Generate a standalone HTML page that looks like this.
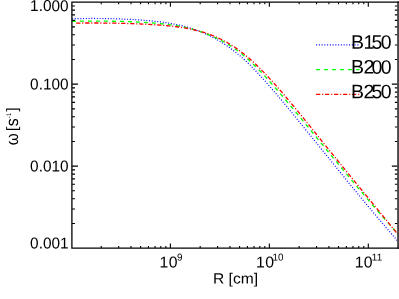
<!DOCTYPE html>
<html><head><meta charset="utf-8"><title>omega vs R</title>
<style>
html,body{margin:0;padding:0;background:#fff;}
svg{display:block;will-change:transform;}
text{font-family:"Liberation Sans",sans-serif;fill:#000;text-rendering:geometricPrecision;}
</style></head><body>
<svg width="399" height="299" viewBox="0 0 399 299">
<rect x="0" y="0" width="399" height="299" fill="#fff"/>
<g fill="none" stroke-width="1.3">
<path d="M71.90,18.77 L72.89,18.74 L73.89,18.72 L74.88,18.69 L75.88,18.67 L76.87,18.64 L77.87,18.62 L78.86,18.60 L79.85,18.58 L80.85,18.57 L81.84,18.55 L82.84,18.54 L83.83,18.52 L84.82,18.51 L85.82,18.50 L86.81,18.49 L87.81,18.49 L88.80,18.48 L89.80,18.48 L90.79,18.47 L91.78,18.47 L92.78,18.47 L93.77,18.47 L94.77,18.47 L95.76,18.48 L96.76,18.48 L97.75,18.49 L98.74,18.49 L99.74,18.50 L100.73,18.51 L101.73,18.52 L102.72,18.53 L103.72,18.55 L104.71,18.56 L105.70,18.58 L106.70,18.60 L107.69,18.61 L108.69,18.63 L109.68,18.66 L110.67,18.68 L111.67,18.70 L112.66,18.73 L113.66,18.75 L114.65,18.78 L115.65,18.81 L116.64,18.84 L117.63,18.87 L118.63,18.90 L119.62,18.94 L120.62,18.97 L121.61,19.01 L122.61,19.05 L123.60,19.09 L124.59,19.13 L125.59,19.17 L126.58,19.22 L127.58,19.27 L128.57,19.31 L129.57,19.36 L130.56,19.41 L131.55,19.47 L132.55,19.52 L133.54,19.57 L134.54,19.63 L135.53,19.69 L136.52,19.75 L137.52,19.82 L138.51,19.88 L139.51,19.95 L140.50,20.02 L141.50,20.09 L142.49,20.16 L143.48,20.24 L144.48,20.31 L145.47,20.39 L146.47,20.48 L147.46,20.56 L148.46,20.65 L149.45,20.74 L150.44,20.83 L151.44,20.93 L152.43,21.02 L153.43,21.13 L154.42,21.23 L155.41,21.34 L156.41,21.45 L157.40,21.56 L158.40,21.68 L159.39,21.80 L160.39,21.92 L161.38,22.05 L162.37,22.18 L163.37,22.32 L164.36,22.46 L165.36,22.60 L166.35,22.75 L167.35,22.91 L168.34,23.06 L169.33,23.23 L170.33,23.40 L171.32,23.57 L172.32,23.75 L173.31,23.93 L174.31,24.12 L175.30,24.31 L176.29,24.52 L177.29,24.72 L178.28,24.94 L179.28,25.16 L180.27,25.38 L181.26,25.61 L182.26,25.85 L183.25,26.10 L184.25,26.36 L185.24,26.62 L186.24,26.89 L187.23,27.17 L188.22,27.45 L189.22,27.74 L190.21,28.05 L191.21,28.36 L192.20,28.68 L193.20,29.00 L194.19,29.34 L195.18,29.69 L196.18,30.04 L197.17,30.41 L198.17,30.78 L199.16,31.16 L200.16,31.56 L201.15,31.96 L202.14,32.37 L203.14,32.79 L204.13,33.22 L205.13,33.66 L206.12,34.11 L207.11,34.57 L208.11,35.04 L209.10,35.52 L210.10,36.00 L211.09,36.50 L212.09,37.01 L213.08,37.53 L214.07,38.06 L215.07,38.59 L216.06,39.14 L217.06,39.70 L218.05,40.27 L219.05,40.84 L220.04,41.43 L221.03,42.03 L222.03,42.64 L223.02,43.26 L224.02,43.90 L225.01,44.54 L226.00,45.20 L227.00,45.87 L227.99,46.56 L228.99,47.25 L229.98,47.96 L230.98,48.69 L231.97,49.42 L232.96,50.17 L233.96,50.93 L234.95,51.71 L235.95,52.50 L236.94,53.30 L237.94,54.12 L238.93,54.95 L239.92,55.79 L240.92,56.65 L241.91,57.52 L242.91,58.40 L243.90,59.29 L244.90,60.20 L245.89,61.12 L246.88,62.06 L247.88,63.00 L248.87,63.97 L249.87,64.94 L250.86,65.92 L251.85,66.92 L252.85,67.93 L253.84,68.95 L254.84,69.99 L255.83,71.03 L256.83,72.08 L257.82,73.14 L258.81,74.21 L259.81,75.29 L260.80,76.38 L261.80,77.48 L262.79,78.58 L263.79,79.68 L264.78,80.80 L265.77,81.92 L266.77,83.04 L267.76,84.17 L268.76,85.31 L269.75,86.45 L270.74,87.59 L271.74,88.74 L272.73,89.89 L273.73,91.05 L274.72,92.21 L275.72,93.38 L276.71,94.54 L277.70,95.72 L278.70,96.89 L279.69,98.07 L280.69,99.25 L281.68,100.44 L282.68,101.63 L283.67,102.82 L284.66,104.01 L285.66,105.21 L286.65,106.41 L287.65,107.61 L288.64,108.81 L289.64,110.02 L290.63,111.22 L291.62,112.43 L292.62,113.64 L293.61,114.86 L294.61,116.07 L295.60,117.29 L296.59,118.50 L297.59,119.72 L298.58,120.94 L299.58,122.16 L300.57,123.38 L301.57,124.61 L302.56,125.83 L303.55,127.06 L304.55,128.28 L305.54,129.51 L306.54,130.74 L307.53,131.96 L308.53,133.19 L309.52,134.42 L310.51,135.65 L311.51,136.88 L312.50,138.11 L313.50,139.34 L314.49,140.57 L315.49,141.80 L316.48,143.03 L317.47,144.27 L318.47,145.50 L319.46,146.73 L320.46,147.96 L321.45,149.19 L322.44,150.42 L323.44,151.65 L324.43,152.88 L325.43,154.11 L326.42,155.34 L327.42,156.57 L328.41,157.80 L329.40,159.03 L330.40,160.26 L331.39,161.49 L332.39,162.72 L333.38,163.94 L334.38,165.17 L335.37,166.40 L336.36,167.62 L337.36,168.85 L338.35,170.07 L339.35,171.29 L340.34,172.52 L341.33,173.74 L342.33,174.96 L343.32,176.18 L344.32,177.40 L345.31,178.62 L346.31,179.83 L347.30,181.05 L348.29,182.27 L349.29,183.48 L350.28,184.70 L351.28,185.91 L352.27,187.12 L353.27,188.33 L354.26,189.54 L355.25,190.75 L356.25,191.96 L357.24,193.16 L358.24,194.37 L359.23,195.57 L360.23,196.77 L361.22,197.98 L362.21,199.18 L363.21,200.38 L364.20,201.57 L365.20,202.77 L366.19,203.97 L367.18,205.16 L368.18,206.35 L369.17,207.54 L370.17,208.73 L371.16,209.92 L372.16,211.11 L373.15,212.29 L374.14,213.48 L375.14,214.66 L376.13,215.84 L377.13,217.02 L378.12,218.20 L379.12,219.38 L380.11,220.55 L381.10,221.72 L382.10,222.90 L383.09,224.07 L384.09,225.23 L385.08,226.40 L386.08,227.57 L387.07,228.73 L388.06,229.89 L389.06,231.05 L390.05,232.21 L391.05,233.37 L392.04,234.52 L393.03,235.67 L394.03,236.83 L395.02,237.98 L396.02,239.12 L397.01,240.27 L398.01,241.41 L399.00,242.56" stroke="#0000ff" stroke-width="1.2" stroke-dasharray="1.0 1.75" stroke-dashoffset="-0.2"/>
<path d="M71.90,21.36 L72.89,21.34 L73.89,21.31 L74.88,21.29 L75.88,21.27 L76.87,21.26 L77.87,21.24 L78.86,21.22 L79.85,21.21 L80.85,21.19 L81.84,21.18 L82.84,21.17 L83.83,21.16 L84.82,21.15 L85.82,21.14 L86.81,21.13 L87.81,21.12 L88.80,21.12 L89.80,21.11 L90.79,21.11 L91.78,21.10 L92.78,21.10 L93.77,21.10 L94.77,21.10 L95.76,21.10 L96.76,21.10 L97.75,21.10 L98.74,21.11 L99.74,21.11 L100.73,21.12 L101.73,21.12 L102.72,21.13 L103.72,21.14 L104.71,21.15 L105.70,21.16 L106.70,21.17 L107.69,21.18 L108.69,21.19 L109.68,21.21 L110.67,21.22 L111.67,21.24 L112.66,21.25 L113.66,21.27 L114.65,21.29 L115.65,21.31 L116.64,21.33 L117.63,21.35 L118.63,21.37 L119.62,21.40 L120.62,21.42 L121.61,21.45 L122.61,21.48 L123.60,21.50 L124.59,21.53 L125.59,21.56 L126.58,21.60 L127.58,21.63 L128.57,21.66 L129.57,21.70 L130.56,21.74 L131.55,21.77 L132.55,21.81 L133.54,21.85 L134.54,21.89 L135.53,21.94 L136.52,21.98 L137.52,22.03 L138.51,22.08 L139.51,22.13 L140.50,22.18 L141.50,22.23 L142.49,22.29 L143.48,22.34 L144.48,22.40 L145.47,22.46 L146.47,22.52 L147.46,22.59 L148.46,22.65 L149.45,22.72 L150.44,22.79 L151.44,22.86 L152.43,22.94 L153.43,23.01 L154.42,23.09 L155.41,23.17 L156.41,23.26 L157.40,23.35 L158.40,23.44 L159.39,23.53 L160.39,23.63 L161.38,23.73 L162.37,23.83 L163.37,23.93 L164.36,24.04 L165.36,24.16 L166.35,24.27 L167.35,24.39 L168.34,24.52 L169.33,24.65 L170.33,24.78 L171.32,24.92 L172.32,25.06 L173.31,25.20 L174.31,25.35 L175.30,25.51 L176.29,25.67 L177.29,25.84 L178.28,26.01 L179.28,26.19 L180.27,26.37 L181.26,26.56 L182.26,26.75 L183.25,26.95 L184.25,27.16 L185.24,27.38 L186.24,27.60 L187.23,27.83 L188.22,28.06 L189.22,28.31 L190.21,28.56 L191.21,28.82 L192.20,29.08 L193.20,29.36 L194.19,29.64 L195.18,29.93 L196.18,30.23 L197.17,30.54 L198.17,30.85 L199.16,31.18 L200.16,31.51 L201.15,31.85 L202.14,32.20 L203.14,32.55 L204.13,32.92 L205.13,33.29 L206.12,33.67 L207.11,34.06 L208.11,34.46 L209.10,34.87 L210.10,35.28 L211.09,35.71 L212.09,36.14 L213.08,36.58 L214.07,37.03 L215.07,37.48 L216.06,37.95 L217.06,38.42 L218.05,38.91 L219.05,39.40 L220.04,39.90 L221.03,40.41 L222.03,40.93 L223.02,41.47 L224.02,42.01 L225.01,42.57 L226.00,43.14 L227.00,43.72 L227.99,44.32 L228.99,44.92 L229.98,45.55 L230.98,46.18 L231.97,46.83 L232.96,47.49 L233.96,48.17 L234.95,48.86 L235.95,49.57 L236.94,50.29 L237.94,51.02 L238.93,51.77 L239.92,52.53 L240.92,53.31 L241.91,54.10 L242.91,54.90 L243.90,55.72 L244.90,56.56 L245.89,57.40 L246.88,58.27 L247.88,59.14 L248.87,60.04 L249.87,60.94 L250.86,61.86 L251.85,62.79 L252.85,63.74 L253.84,64.70 L254.84,65.68 L255.83,66.67 L256.83,67.67 L257.82,68.69 L258.81,69.72 L259.81,70.75 L260.80,71.80 L261.80,72.86 L262.79,73.93 L263.79,75.00 L264.78,76.08 L265.77,77.17 L266.77,78.27 L267.76,79.37 L268.76,80.48 L269.75,81.59 L270.74,82.71 L271.74,83.83 L272.73,84.96 L273.73,86.09 L274.72,87.23 L275.72,88.37 L276.71,89.52 L277.70,90.67 L278.70,91.83 L279.69,92.99 L280.69,94.15 L281.68,95.31 L282.68,96.48 L283.67,97.66 L284.66,98.83 L285.66,100.01 L286.65,101.19 L287.65,102.38 L288.64,103.56 L289.64,104.75 L290.63,105.94 L291.62,107.14 L292.62,108.33 L293.61,109.53 L294.61,110.73 L295.60,111.93 L296.59,113.13 L297.59,114.34 L298.58,115.54 L299.58,116.75 L300.57,117.96 L301.57,119.17 L302.56,120.38 L303.55,121.59 L304.55,122.80 L305.54,124.02 L306.54,125.23 L307.53,126.45 L308.53,127.66 L309.52,128.88 L310.51,130.09 L311.51,131.31 L312.50,132.53 L313.50,133.75 L314.49,134.96 L315.49,136.18 L316.48,137.40 L317.47,138.62 L318.47,139.83 L319.46,141.05 L320.46,142.27 L321.45,143.49 L322.44,144.71 L323.44,145.92 L324.43,147.14 L325.43,148.36 L326.42,149.57 L327.42,150.79 L328.41,152.00 L329.40,153.22 L330.40,154.43 L331.39,155.64 L332.39,156.86 L333.38,158.07 L334.38,159.28 L335.37,160.49 L336.36,161.70 L337.36,162.91 L338.35,164.12 L339.35,165.32 L340.34,166.53 L341.33,167.74 L342.33,168.94 L343.32,170.14 L344.32,171.35 L345.31,172.55 L346.31,173.75 L347.30,174.95 L348.29,176.14 L349.29,177.34 L350.28,178.54 L351.28,179.73 L352.27,180.92 L353.27,182.11 L354.26,183.30 L355.25,184.49 L356.25,185.68 L357.24,186.87 L358.24,188.05 L359.23,189.23 L360.23,190.42 L361.22,191.60 L362.21,192.77 L363.21,193.95 L364.20,195.13 L365.20,196.30 L366.19,197.47 L367.18,198.64 L368.18,199.81 L369.17,200.98 L370.17,202.14 L371.16,203.31 L372.16,204.47 L373.15,205.63 L374.14,206.79 L375.14,207.95 L376.13,209.10 L377.13,210.25 L378.12,211.40 L379.12,212.55 L380.11,213.70 L381.10,214.85 L382.10,215.99 L383.09,217.13 L384.09,218.27 L385.08,219.41 L386.08,220.54 L387.07,221.67 L388.06,222.81 L389.06,223.93 L390.05,225.06 L391.05,226.19 L392.04,227.31 L393.03,228.43 L394.03,229.55 L395.02,230.66 L396.02,231.78 L397.01,232.89 L398.01,234.00 L399.00,235.10" stroke="#00ff00" stroke-dasharray="4 4"/>
<path d="M76.20,23.09 L77.18,23.08 L78.16,23.07 L79.14,23.05 L80.12,23.04 L81.11,23.03 L82.09,23.02 L83.07,23.01 L84.05,23.01 L85.03,23.00 L86.01,22.99 L86.99,22.99 L87.97,22.99 L88.96,22.98 L89.94,22.98 L90.92,22.98 L91.90,22.98 L92.88,22.98 L93.86,22.98 L94.84,22.98 L95.82,22.99 L96.80,22.99 L97.79,22.99 L98.77,23.00 L99.75,23.01 L100.73,23.01 L101.71,23.02 L102.69,23.03 L103.67,23.04 L104.65,23.05 L105.63,23.06 L106.62,23.07 L107.60,23.09 L108.58,23.10 L109.56,23.11 L110.54,23.13 L111.52,23.14 L112.50,23.16 L113.48,23.18 L114.47,23.20 L115.45,23.22 L116.43,23.24 L117.41,23.26 L118.39,23.28 L119.37,23.30 L120.35,23.32 L121.33,23.35 L122.31,23.37 L123.30,23.40 L124.28,23.42 L125.26,23.45 L126.24,23.48 L127.22,23.51 L128.20,23.54 L129.18,23.57 L130.16,23.60 L131.14,23.63 L132.13,23.66 L133.11,23.70 L134.09,23.73 L135.07,23.77 L136.05,23.81 L137.03,23.84 L138.01,23.88 L138.99,23.92 L139.98,23.97 L140.96,24.01 L141.94,24.05 L142.92,24.10 L143.90,24.14 L144.88,24.19 L145.86,24.24 L146.84,24.29 L147.82,24.34 L148.81,24.40 L149.79,24.45 L150.77,24.51 L151.75,24.57 L152.73,24.63 L153.71,24.69 L154.69,24.75 L155.67,24.81 L156.65,24.88 L157.64,24.95 L158.62,25.02 L159.60,25.09 L160.58,25.17 L161.56,25.25 L162.54,25.33 L163.52,25.41 L164.50,25.49 L165.49,25.58 L166.47,25.67 L167.45,25.76 L168.43,25.86 L169.41,25.96 L170.39,26.06 L171.37,26.17 L172.35,26.27 L173.33,26.39 L174.32,26.50 L175.30,26.62 L176.28,26.75 L177.26,26.87 L178.24,27.00 L179.22,27.14 L180.20,27.28 L181.18,27.42 L182.16,27.57 L183.15,27.73 L184.13,27.89 L185.11,28.05 L186.09,28.22 L187.07,28.40 L188.05,28.58 L189.03,28.77 L190.01,28.96 L191.00,29.16 L191.98,29.37 L192.96,29.58 L193.94,29.80 L194.92,30.03 L195.90,30.26 L196.88,30.50 L197.86,30.75 L198.84,31.01 L199.83,31.27 L200.81,31.55 L201.79,31.83 L202.77,32.12 L203.75,32.42 L204.73,32.72 L205.71,33.04 L206.69,33.37 L207.67,33.70 L208.66,34.05 L209.64,34.40 L210.62,34.77 L211.60,35.15 L212.58,35.53 L213.56,35.93 L214.54,36.34 L215.52,36.75 L216.51,37.18 L217.49,37.62 L218.47,38.07 L219.45,38.54 L220.43,39.01 L221.41,39.49 L222.39,39.99 L223.37,40.50 L224.35,41.02 L225.34,41.55 L226.32,42.09 L227.30,42.65 L228.28,43.21 L229.26,43.79 L230.24,44.39 L231.22,44.99 L232.20,45.61 L233.18,46.24 L234.17,46.88 L235.15,47.53 L236.13,48.20 L237.11,48.88 L238.09,49.58 L239.07,50.28 L240.05,51.00 L241.03,51.74 L242.02,52.48 L243.00,53.24 L243.98,54.02 L244.96,54.80 L245.94,55.60 L246.92,56.42 L247.90,57.24 L248.88,58.08 L249.86,58.93 L250.85,59.80 L251.83,60.68 L252.81,61.57 L253.79,62.47 L254.77,63.38 L255.75,64.31 L256.73,65.24 L257.71,66.19 L258.69,67.15 L259.68,68.12 L260.66,69.10 L261.64,70.09 L262.62,71.09 L263.60,72.10 L264.58,73.11 L265.56,74.14 L266.54,75.17 L267.53,76.22 L268.51,77.27 L269.49,78.33 L270.47,79.39 L271.45,80.46 L272.43,81.55 L273.41,82.63 L274.39,83.73 L275.37,84.83 L276.36,85.93 L277.34,87.05 L278.32,88.16 L279.30,89.29 L280.28,90.42 L281.26,91.55 L282.24,92.69 L283.22,93.84 L284.20,94.99 L285.19,96.14 L286.17,97.30 L287.15,98.46 L288.13,99.62 L289.11,100.79 L290.09,101.97 L291.07,103.14 L292.05,104.32 L293.04,105.51 L294.02,106.69 L295.00,107.88 L295.98,109.07 L296.96,110.26 L297.94,111.46 L298.92,112.66 L299.90,113.86 L300.88,115.06 L301.87,116.27 L302.85,117.47 L303.83,118.68 L304.81,119.89 L305.79,121.10 L306.77,122.31 L307.75,123.52 L308.73,124.74 L309.71,125.95 L310.70,127.17 L311.68,128.39 L312.66,129.60 L313.64,130.82 L314.62,132.04 L315.60,133.26 L316.58,134.48 L317.56,135.70 L318.55,136.92 L319.53,138.14 L320.51,139.36 L321.49,140.58 L322.47,141.79 L323.45,143.01 L324.43,144.23 L325.41,145.45 L326.39,146.67 L327.38,147.88 L328.36,149.10 L329.34,150.32 L330.32,151.53 L331.30,152.75 L332.28,153.96 L333.26,155.17 L334.24,156.38 L335.22,157.59 L336.21,158.80 L337.19,160.01 L338.17,161.22 L339.15,162.42 L340.13,163.63 L341.11,164.84 L342.09,166.04 L343.07,167.24 L344.06,168.45 L345.04,169.65 L346.02,170.85 L347.00,172.05 L347.98,173.25 L348.96,174.45 L349.94,175.65 L350.92,176.85 L351.90,178.05 L352.89,179.25 L353.87,180.45 L354.85,181.65 L355.83,182.84 L356.81,184.04 L357.79,185.24 L358.77,186.43 L359.75,187.63 L360.73,188.83 L361.72,190.02 L362.70,191.22 L363.68,192.42 L364.66,193.61 L365.64,194.81 L366.62,196.01 L367.60,197.20 L368.58,198.40 L369.57,199.60 L370.55,200.79 L371.53,201.99 L372.51,203.19 L373.49,204.39 L374.47,205.59 L375.45,206.79 L376.43,207.99 L377.41,209.19 L378.40,210.39 L379.38,211.59 L380.36,212.79 L381.34,214.00 L382.32,215.20 L383.30,216.41 L384.28,217.61 L385.26,218.82 L386.24,220.03 L387.23,221.24 L388.21,222.45 L389.19,223.66 L390.17,224.87 L391.15,226.08 L392.13,227.30 L393.11,228.51 L394.09,229.73 L395.08,230.95 L396.06,232.17 L397.04,233.39 L398.02,234.61 L399.00,235.83" stroke="#ff0000" stroke-dasharray="4.2 1.85 1.1 1.85"/>
</g>
<path d="M71.9,59.49h3.1 M397.95,59.49h-3.1 M71.9,45.06h3.1 M397.95,45.06h-3.1 M71.9,34.82h3.1 M397.95,34.82h-3.1 M71.9,26.87h3.1 M397.95,26.87h-3.1 M71.9,20.38h3.1 M397.95,20.38h-3.1 M71.9,14.90h3.1 M397.95,14.90h-3.1 M71.9,10.14h3.1 M397.95,10.14h-3.1 M71.9,5.95h3.1 M397.95,5.95h-3.1 M71.9,84.17h6.1 M397.95,84.17h-6.1 M71.9,141.46h3.1 M397.95,141.46h-3.1 M71.9,127.03h3.1 M397.95,127.03h-3.1 M71.9,116.78h3.1 M397.95,116.78h-3.1 M71.9,108.84h3.1 M397.95,108.84h-3.1 M71.9,102.35h3.1 M397.95,102.35h-3.1 M71.9,96.86h3.1 M397.95,96.86h-3.1 M71.9,92.11h3.1 M397.95,92.11h-3.1 M71.9,87.92h3.1 M397.95,87.92h-3.1 M71.9,166.13h6.1 M397.95,166.13h-6.1 M71.9,223.43h3.1 M397.95,223.43h-3.1 M71.9,208.99h3.1 M397.95,208.99h-3.1 M71.9,198.75h3.1 M397.95,198.75h-3.1 M71.9,190.81h3.1 M397.95,190.81h-3.1 M71.9,184.32h3.1 M397.95,184.32h-3.1 M71.9,178.83h3.1 M397.95,178.83h-3.1 M71.9,174.08h3.1 M397.95,174.08h-3.1 M71.9,169.88h3.1 M397.95,169.88h-3.1 M101.24,248.1v-2.0 M101.24,2.2v2.0 M118.66,248.1v-2.0 M118.66,2.2v2.0 M131.02,248.1v-2.0 M131.02,2.2v2.0 M140.61,248.1v-2.0 M140.61,2.2v2.0 M148.45,248.1v-2.0 M148.45,2.2v2.0 M155.07,248.1v-2.0 M155.07,2.2v2.0 M160.81,248.1v-2.0 M160.81,2.2v2.0 M165.87,248.1v-2.0 M165.87,2.2v2.0 M170.40,248.1v-4.6 M170.40,2.2v4.6 M200.19,248.1v-2.0 M200.19,2.2v2.0 M217.61,248.1v-2.0 M217.61,2.2v2.0 M229.97,248.1v-2.0 M229.97,2.2v2.0 M239.56,248.1v-2.0 M239.56,2.2v2.0 M247.40,248.1v-2.0 M247.40,2.2v2.0 M254.02,248.1v-2.0 M254.02,2.2v2.0 M259.76,248.1v-2.0 M259.76,2.2v2.0 M264.82,248.1v-2.0 M264.82,2.2v2.0 M269.35,248.1v-4.6 M269.35,2.2v4.6 M299.14,248.1v-2.0 M299.14,2.2v2.0 M316.56,248.1v-2.0 M316.56,2.2v2.0 M328.92,248.1v-2.0 M328.92,2.2v2.0 M338.51,248.1v-2.0 M338.51,2.2v2.0 M346.35,248.1v-2.0 M346.35,2.2v2.0 M352.97,248.1v-2.0 M352.97,2.2v2.0 M358.71,248.1v-2.0 M358.71,2.2v2.0 M363.77,248.1v-2.0 M363.77,2.2v2.0 M368.30,248.1v-4.6 M368.30,2.2v4.6" stroke="#000" stroke-width="1.1" fill="none"/>
<rect x="397.1" y="1.55" width="1.9" height="247.20" fill="#484848"/>
<path d="M399,2.2H71.9V248.1H399" fill="none" stroke="#000" stroke-width="1.3" stroke-linejoin="miter"/>
<text transform="translate(30.10,11.10) rotate(0.1) scale(0.975,1)" font-size="15.8">1.000</text>
<text transform="translate(30.10,89.50) rotate(0.1) scale(0.975,1)" font-size="15.8">0.100</text>
<text transform="translate(30.10,171.50) rotate(0.1) scale(0.975,1)" font-size="15.8">0.010</text>
<text transform="translate(30.10,248.50) rotate(0.1) scale(0.975,1)" font-size="15.8">0.001</text>
<text transform="translate(159.50,267.50) rotate(0.1)" font-size="15.8" x="0.00 9.17">10</text>
<text transform="translate(177.10,260.40) rotate(0.1)" font-size="9.9" x="0.00">9</text>
<text transform="translate(256.10,267.50) rotate(0.1)" font-size="15.8" x="0.00 9.17">10</text>
<text transform="translate(272.56,260.40) rotate(0.1)" font-size="9.9" x="0.00 5.54">10</text>
<text transform="translate(354.70,267.50) rotate(0.1)" font-size="15.8" x="0.00 9.10">10</text>
<text transform="translate(371.70,260.40) rotate(0.1)" font-size="9.9" x="0.00 5.10">11</text>
<text transform="translate(213.00,283.40) rotate(0.1) scale(1.055,1)" font-size="14.8">R [cm]</text>
<text transform="translate(18.1,145.2) rotate(-90) scale(0.885,1)" font-size="17.3">ω</text>
<text transform="translate(17.08,131.17) rotate(-90) scale(1.1,1)" font-size="15.0">[</text>
<text transform="translate(17.9,126.35) rotate(-90) scale(0.915,1)" font-size="17.3">s</text>
<text transform="translate(10.8,118.5) rotate(-90) scale(1.0,1)" font-size="6.7">-</text>
<text transform="translate(10.8,115.9) rotate(-90) scale(0.8,1)" font-size="6.7">1</text>
<text transform="translate(17.08,111.83) rotate(-90) scale(1.05,1)" font-size="15.0">]</text>
<path d="M316.1,44.8H359.5" stroke="#0000ff" stroke-width="1.3" stroke-dasharray="1.0 1.75" fill="none"/>
<text transform="translate(351.10,48.70) rotate(0.1)" font-size="19.5" x="0.00 12.50 20.50 29.60">B150</text>
<path d="M316.1,69.7H359.5" stroke="#00ff00" stroke-width="1.3" stroke-dasharray="4 4" fill="none"/>
<text transform="translate(351.10,73.60) rotate(0.1)" font-size="19.5" x="0.00 12.50 20.50 29.60">B200</text>
<path d="M316.1,94.3H359.5" stroke="#ff0000" stroke-width="1.3" stroke-dasharray="4.2 1.85 1.1 1.85" fill="none"/>
<text transform="translate(351.10,98.20) rotate(0.1)" font-size="19.5" x="0.00 12.50 20.50 29.60">B250</text>
</svg>
</body></html>
